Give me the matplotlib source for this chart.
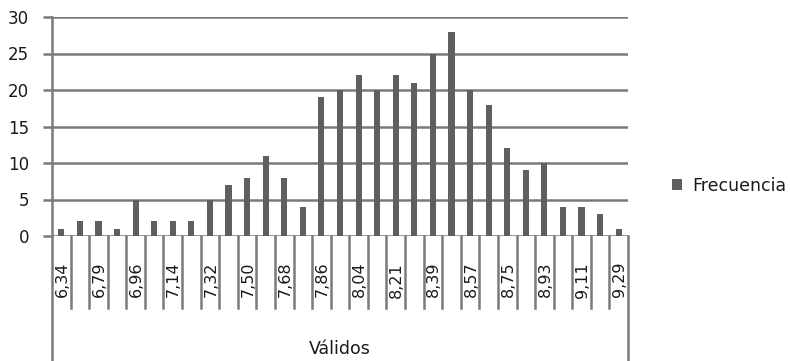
import numpy as np
import matplotlib
matplotlib.use("Agg")
from matplotlib import pyplot as plt

# frequency per value (31 classes, every other class labelled)
labels = ["6,34", "6,79", "6,96", "7,14", "7,32", "7,50", "7,68", "7,86",
          "8,04", "8,21", "8,39", "8,57", "8,75", "8,93", "9,11", "9,29"]
frecuencia = [1, 2, 2, 1, 5, 2, 2, 2, 5, 7, 8, 11, 8, 4, 19, 20,
              22, 20, 22, 21, 25, 28, 20, 18, 12, 9, 10, 4, 4, 3, 1]
group_name = "Válidos"
series_name = "Frecuencia"

plt.rcParams['font.family'] = ['DejaVu Sans']

bar_color = "#5f5f5f"
line_color = "#7a7a7a"
text_color = "#1a1a1a"

fig = plt.figure(figsize=(7.9, 3.61), dpi=100)
ax = fig.add_axes([52 / 790, 125 / 361, 576 / 790, 219 / 361])

n = len(frecuencia)
x = np.arange(n)
ax.bar(x, frecuencia, width=0.33, color=bar_color, label=series_name, zorder=3)

ax.set_xlim(-0.5, n - 0.5)
ax.set_ylim(0, 30)
ax.set_yticks(range(0, 31, 5))
ax.yaxis.grid(True, color=line_color, linewidth=1.8, zorder=0)
ax.tick_params(axis='y', length=6.5, width=1.8, color=line_color, pad=10,
               labelsize=12, labelcolor=text_color)
ax.set_xticks([])

for side in ["top", "right", "bottom"]:
    ax.spines[side].set_visible(False)
ax.spines["left"].set_color(line_color)
ax.spines["left"].set_linewidth(1.8)

# multi-level category axis: separators, rotated labels and group box
trans = ax.get_xaxis_transform()
for b in np.arange(-0.5, n, 1.0):
    bottom = -0.571 if b in (-0.5, n - 0.5) else -0.329
    ax.plot([b, b], [0, bottom], color=line_color, linewidth=1.8,
            transform=trans, clip_on=False, zorder=2)

for i, lab in enumerate(labels):
    ax.text(2 * i + 0.05, -0.118, lab, rotation=90, ha='center', va='top',
            fontsize=11.5, color=text_color, transform=trans)

ax.text((n - 1) / 2, -0.515, group_name, ha='center', va='center',
        fontsize=12.5, color=text_color, transform=trans)

fig.legend(loc='center left', bbox_to_anchor=(656 / 790, 1 - 186 / 361),
           frameon=False, handlelength=0.6, handleheight=0.6,
           handletextpad=0.6, fontsize=12.5, labelcolor=text_color)

plt.savefig("out.png", dpi=100)
